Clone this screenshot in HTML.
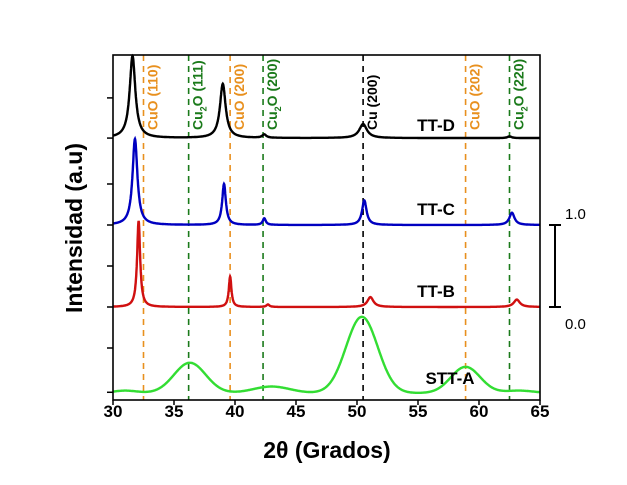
<!DOCTYPE html>
<html><head><meta charset="utf-8"><style>
body{margin:0;background:#fff;}
svg text{font-family:"Liberation Sans",Arial,sans-serif;font-weight:bold;}
</style></head><body>
<svg id="chart" width="627" height="480" viewBox="0 0 627 480"></svg>
<script>
const xTicks=[30,35,40,45,50,55,60,65];
const seriesNames=["TT-D","TT-C","TT-B","STT-A"];
const seriesColors=["#000000","#0000c0","#d01010","#33dd33"];
const seriesOffsets=[2.06,1.0,0.0,-1.05];
// peaks: [center, height, width]
const peaksD=[[31.6,1.0,0.28],[39.0,0.66,0.28],[42.4,0.04,0.2],[50.5,0.17,0.38],[62.5,0.02,0.2]];
const peaksC=[[31.8,1.05,0.24],[39.1,0.5,0.18],[42.4,0.08,0.15],[50.6,0.3,0.22],[62.7,0.15,0.25]];
const peaksB=[[32.1,1.05,0.15],[39.6,0.37,0.13],[42.7,0.03,0.15],[51.1,0.12,0.3],[63.1,0.09,0.3]];
const peaksA=[[36.3,0.37,1.3],[43.0,0.08,1.5],[50.4,0.93,1.3],[58.9,0.32,1.2],[31,0.03,1],[63.3,0.03,1.2]];
const allPeaks=[peaksD,peaksC,peaksB,peaksA];
const refLines=[[32.5,"CuO (110)","#e8901e"],[36.2,"Cu2O (111)","#1a7a1a"],[39.6,"CuO (200)","#e8901e"],[42.3,"Cu2O (200)","#1a7a1a"],[50.5,"Cu (200)","#000"],[58.9,"CuO (202)","#e8901e"],[62.5,"Cu2O (220)","#1a7a1a"]];
const leftTicks=[-1.04,-0.5,0,0.5,1,1.5,2.06,2.55];

const L=113,R=540,T=55,B=400;
const X=v=>L+(v-30)*(R-L)/35;
const Y=v=>307-v*82;
const svg=document.getElementById('chart');
const NS="http://www.w3.org/2000/svg";
function mk(t,a,p){const e=document.createElementNS(NS,t);for(const k in a)e.setAttribute(k,a[k]);(p||svg).appendChild(e);return e;}

refLines.forEach(r=>{
  const l=mk('line',{x1:X(r[0]),x2:X(r[0]),y1:T,y2:B,stroke:r[2],'stroke-width':1.6,'stroke-dasharray':'6,5'});
  
  
});
allPeaks.forEach((pk,i)=>{
  let d="";
  for(let x=30;x<=65;x+=0.02){
    let y=0;
    pk.forEach(p=>{const z=(x-p[0])/p[2]; y+= i==3? p[1]*Math.exp(-z*z/2) : p[1]/(1+z*z);});
    d+=(d?"L":"M")+X(x).toFixed(1)+","+Y(seriesOffsets[i]+y).toFixed(1);
  }
  const p=mk('path',{d:d,fill:'none',stroke:seriesColors[i],'stroke-width':2.4});
  
  
});
refLines.forEach(r=>{
  const t=mk('text',{transform:`translate(${X(r[0])+14},${T+75}) rotate(-90)`,fill:r[2],'font-size':14});
  
  
  if(r[1].startsWith("Cu2O")){
    t.innerHTML='Cu<tspan dy="4" font-size="9">2</tspan><tspan dy="-4">O '+r[1].slice(5)+'</tspan>';
  } else t.textContent=r[1];
});
const lblPos=[[436,131],[436,215],[436,297],[450,384]];
seriesNames.forEach((n,i)=>{
  const t=mk('text',{x:lblPos[i][0],y:lblPos[i][1],'font-size':17,'text-anchor':'middle'});
  
  
  t.textContent=n;
});
const f=mk('rect',{x:L,y:T,width:R-L,height:B-T,fill:'none',stroke:'#000','stroke-width':1.6});


xTicks.forEach(v=>{
  const tk=mk('line',{x1:X(v),x2:X(v),y1:B,y2:B+5,stroke:'#000','stroke-width':1.5});
  
  
  const t=mk('text',{x:X(v),y:B+17,'font-size':17,'text-anchor':'middle'});
  
  
  t.textContent=v;
});
leftTicks.forEach(v=>{
  const tk=mk('line',{x1:L-6,x2:L,y1:Y(v),y2:Y(v),stroke:'#000','stroke-width':1.5});
  
  
});
const sb=mk('path',{d:`M555,${Y(1)}L555,${Y(0)}M549,${Y(1)}L561,${Y(1)}M549,${Y(0)}L561,${Y(0)}`,stroke:'#000','stroke-width':2,fill:'none'});


[[1,"1.0",Y(1)-6],[0,"0.0",Y(0)+22]].forEach(s=>{
  const t=mk('text',{x:565,y:s[2],'font-size':15,style:'font-weight:normal'});
  
  
  t.textContent=s[1];
});
const xt=mk('text',{x:327,y:458,'font-size':23,'text-anchor':'middle'});


xt.textContent="2θ (Grados)";
const yt=mk('text',{transform:'translate(82,228) rotate(-90)','font-size':23,'text-anchor':'middle'});


yt.textContent="Intensidad (a.u)";
</script>
</body></html>
